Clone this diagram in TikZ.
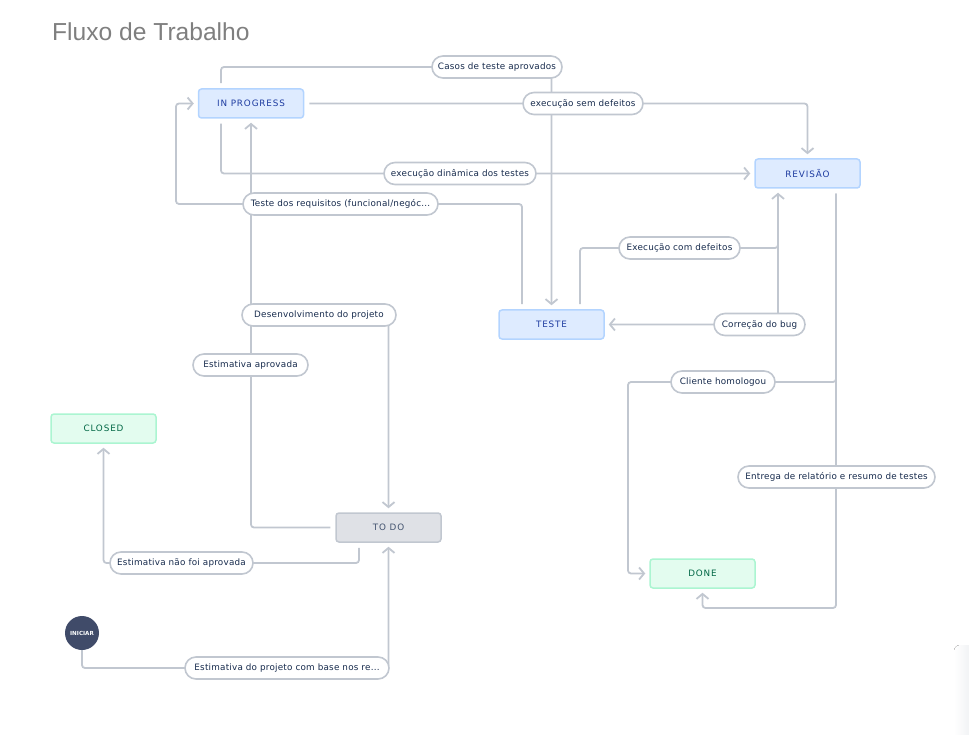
\documentclass[tikz,border=0pt]{standalone}
\usepackage{fontspec}
\setmainfont{DejaVu Sans}
\newfontfamily\lblfont[LetterSpace=2.5]{DejaVu Sans}
\newfontfamily\stfont[LetterSpace=10]{DejaVu Sans}
\newfontfamily\inifont{DejaVu Sans}
\newfontfamily\titlefont{Liberation Sans}
\usetikzlibrary{arrows.meta}
\definecolor{lineC}{HTML}{C1C7D0}
\definecolor{blueF}{HTML}{DEEBFF}
\definecolor{blueB}{HTML}{B3D4FF}
\definecolor{blueT}{HTML}{1D3BA0}
\definecolor{greenF}{HTML}{E3FCEF}
\definecolor{greenB}{HTML}{ABF5D1}
\definecolor{greenT}{HTML}{006644}
\definecolor{greyF}{HTML}{DFE1E6}
\definecolor{greyT}{HTML}{42526E}
\definecolor{txtC}{HTML}{172B4D}
\definecolor{iniC}{HTML}{404B69}
\definecolor{titleC}{HTML}{7F7F7F}
\pgfdeclarelayer{bg}
\pgfsetlayers{bg,main}
\tikzset{
  statebox/.style={rectangle, rounded corners=3pt, minimum width=105pt, minimum height=29pt,
    line width=1.5pt, inner sep=0pt, font=\stfont\fontsize{8.8}{10}\selectfont},
  bluebox/.style={statebox, fill=blueF, draw=blueB, text=blueT},
  greenbox/.style={statebox, fill=greenF, draw=greenB, text=greenT},
  greybox/.style={statebox, fill=greyF, draw=lineC, text=greyT},
  pill/.style={rectangle, rounded corners=11pt, draw=lineC, fill=white, line width=1.6pt,
    minimum height=22pt, inner xsep=3pt, inner ysep=0pt, text=txtC,
    font=\lblfont\fontsize{8.8}{10}\selectfont},
  conn/.style={draw=lineC, line width=1.8pt, rounded corners=3pt, shorten <=5pt, shorten >=4pt,
    -{Straight Barb[length=5pt,width=12pt]}},
  titletext/.style={anchor=base west, inner sep=0pt, font=\titlefont\fontsize{24.6}{28}\selectfont},
}
\begin{document}
\begin{tikzpicture}[x=1pt,y=-1pt]
\useasboundingbox (0,0) rectangle (969,735);
% soft corner shade
\fill[left color=white, right color=lineC!30, rounded corners=6pt] (954,645) rectangle (975,740);
% title
\node[titletext, text=titleC] (title) at (52,41) {Fluxo de Trabalho};

% states
\node[bluebox] (ip) at (251,103.5) {IN PROGRESS};
\node[bluebox] (rev) at (807.5,173.5) {REVISÃO};
\node[bluebox] (teste) at (551.5,324.5) {TESTE};
\node[greybox] (todo) at (388.5,527.5) {TO DO};
\node[greenbox] (closed) at (103.5,428.5) {CLOSED};
\node[greenbox] (done) at (702.5,573.5) {DONE};
\node[circle, fill=iniC, minimum size=34pt, inner sep=0pt, text=white,
  font=\inifont\bfseries\fontsize{5.6}{6}\selectfont] (ini) at (82,633) {INICIAR};

% labels
\node[pill, minimum width=204pt] (l1) at (287,668) {Estimativa do projeto com base nos re...};
\node[pill, minimum width=115pt] (l2) at (250.5,365) {Estimativa aprovada};
\node[pill, minimum width=143pt] (l3) at (181.5,563) {Estimativa não foi aprovada};
\node[pill, minimum width=154pt] (l4) at (319,315) {Desenvolvimento do projeto};
\node[pill, minimum width=130pt] (l5) at (497,67) {Casos de teste aprovados};
\node[pill, minimum width=120pt] (l6) at (583,103.5) {execução sem defeitos};
\node[pill, minimum width=152pt] (l7) at (460,173.5) {execução dinâmica dos testes};
\node[pill, minimum width=195pt] (l8) at (340.5,204) {Teste dos requisitos (funcional/negóc...};
\node[pill, minimum width=121pt] (l9) at (679.5,248) {Execução com defeitos};
\node[pill, minimum width=91pt] (l10) at (759.5,324.5) {Correção do bug};
\node[pill, minimum width=104pt] (l11) at (723,382) {Cliente homologou};
\node[pill, minimum width=197pt] (l12) at (836.5,477) {Entrega de relatório e resumo de testes};

\coordinate (c8) at (176,204);
\coordinate (c11) at (628,382);
\coordinate (c12) at (836,608);

\begin{pgfonlayer}{bg}
% INICIAR -> TO DO
\draw[conn, shorten <=0pt] (ini.south) |- (l1.center) -| (todo.south);
% TO DO -> IN PROGRESS (Estimativa aprovada)
\draw[conn] (todo.west) -| (ip.south);
% TO DO -> CLOSED
\draw[conn] ([xshift=-29.5pt]todo.south) |- (l3.center) -| (closed.south);
% IN PROGRESS -> TO DO (Desenvolvimento do projeto)
\draw[conn] (ip.south) |- (l4.center) -| (todo.north);
% IN PROGRESS -> TESTE (Casos de teste aprovados)
\draw[conn] ([xshift=-30pt]ip.north) |- (l5.center) -| (teste.north);
% IN PROGRESS -> REVISAO (execucao sem defeitos)
\draw[conn] (ip.east) -| (rev.north);
% IN PROGRESS -> REVISAO (execucao dinamica)
\draw[conn] ([xshift=-30pt]ip.south) |- (rev.west);
% TESTE -> IN PROGRESS (Teste dos requisitos)
\draw[conn] ([xshift=-29.5pt]teste.north) |- (c8) |- (ip.west);
% TESTE -> REVISAO (Execucao com defeitos)
\draw[conn] ([xshift=28.5pt]teste.north) |- (l9.center) -| ([xshift=-29.5pt]rev.south);
% REVISAO -> TESTE (Correcao do bug)
\draw[conn] ([xshift=-29.5pt]rev.south) |- (teste.east);
% REVISAO -> DONE (Cliente homologou)
\draw[conn] ([xshift=28.5pt]rev.south) |- (c11) |- (done.west);
% REVISAO -> DONE (Entrega de relatorio)
\draw[conn] ([xshift=28.5pt]rev.south) -- (c12) -| (done.south);
\end{pgfonlayer}
\end{tikzpicture}
\end{document}
